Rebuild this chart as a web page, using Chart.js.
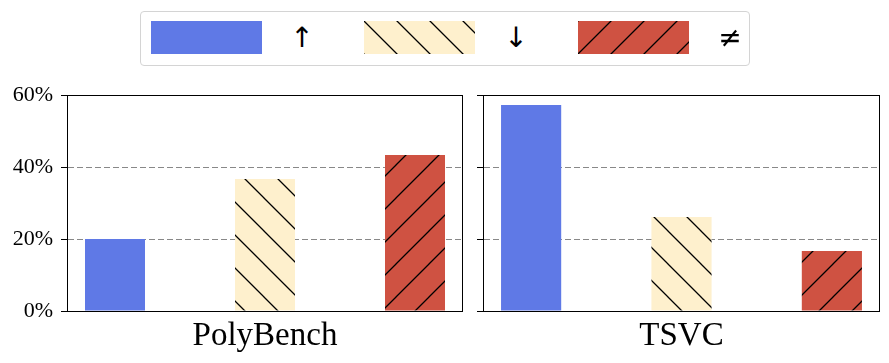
<!DOCTYPE html>
<html>
<head>
<meta charset="utf-8">
<script src="https://cdn.jsdelivr.net/npm/chart.js@4"></script>
<style>
  body { margin: 0; background: #fff; }
  #wrap { position: relative; width: 889px; height: 363px; }
  canvas { position: absolute; top: 0; }
  #legend {
    position: absolute; left: 140px; top: 11px; width: 608px; height: 53px;
    border: 1px solid #d4d4d4; border-radius: 4px; background: #fff; z-index: 2;
  }
  #legend canvas { position: absolute; top: 9px; }
  #legend span {
    position: absolute; top: 9px; height: 33px; width: 40px;
    display: flex; align-items: center; justify-content: center;
    font: 28px 'DejaVu Sans', sans-serif; line-height: 1; color: #000;
  }
</style>
</head>
<body>
<div id="wrap">
  <canvas id="chartPoly" width="470" height="363" style="left:0"></canvas>
  <canvas id="chartTsvc" width="419" height="363" style="left:470px"></canvas>
  <div id="legend"></div>
</div>
<script>
// Datos
const symbols = ['↑', '↓', '≠'];
const panels = ['PolyBench', 'TSVC'];
const polybenchValues = [20, 36.7, 43.3];
const tsvcValues = [57.2, 26.1, 16.7];
const yTickValues = [0, 20, 40, 60];

const blue = '#5f79e6';
const beige = '#fef0cd';
const red = '#cf5242';

// Patron rayado (hatch)
function makeHatch(bg, dir) {
    const s = 33;
    const c = document.createElement('canvas');
    c.width = s; c.height = s;
    const g = c.getContext('2d');
    g.fillStyle = bg;
    g.fillRect(0, 0, s, s);
    g.strokeStyle = '#000';
    g.lineWidth = 1.3;
    g.beginPath();
    if (dir === '/') {
        g.moveTo(-2, s + 2); g.lineTo(s + 2, -2);
        g.moveTo(-2, 2); g.lineTo(2, -2);
        g.moveTo(s - 2, s + 2); g.lineTo(s + 2, s - 2);
    } else {
        g.moveTo(-2, -2); g.lineTo(s + 2, s + 2);
        g.moveTo(-2, s - 2); g.lineTo(2, s + 2);
        g.moveTo(s - 2, -2); g.lineTo(s + 2, 2);
    }
    g.stroke();
    return g.createPattern(c, 'repeat');
}

const fills = [blue, makeHatch(beige, '\\'), makeHatch(red, '/')];

// Marco alrededor del area del grafico
const framePlugin = {
    id: 'frame',
    afterDraw(chart) {
        const a = chart.chartArea;
        const ctx = chart.ctx;
        ctx.save();
        ctx.strokeStyle = '#000';
        ctx.lineWidth = 1;
        ctx.setLineDash([]);
        ctx.strokeRect(Math.round(a.left) + 0.5, Math.round(a.top) + 0.5,
            Math.round(a.right - a.left) - 1, Math.round(a.bottom - a.top));
        ctx.restore();
    }
};

function buildChart(id, title, values, showLabels, yWidth, rightPad) {
    return new Chart(document.getElementById(id), {
        type: 'bar',
        data: {
            datasets: [{
                label: title,
                data: values.map((v, i) => ({ x: i, y: v })),
                backgroundColor: fills,
                borderWidth: 0,
                categoryPercentage: 1,
                barPercentage: 0.4
            }]
        },
        options: {
            responsive: false,
            animation: false,
            layout: { padding: { top: 95, right: rightPad, left: 0, bottom: 0 } },
            plugins: { legend: { display: false }, tooltip: { enabled: false } },
            scales: {
                x: {
                    type: 'linear',
                    offset: false,
                    min: -0.32,
                    max: values.length - 1 + 0.32,
                    afterBuildTicks: s => { s.ticks = values.map((v, i) => ({ value: i })); },
                    ticks: { display: false },
                    grid: { display: false },
                    border: { display: false },
                    title: {
                        display: true,
                        text: title,
                        color: '#000',
                        font: { family: "'Liberation Serif', serif", size: 33 },
                        padding: { top: 0, bottom: 7 }
                    },
                    afterFit: s => { s.height = 52; }
                },
                y: {
                    min: 0,
                    max: 60,
                    afterBuildTicks: s => { s.ticks = yTickValues.map(v => ({ value: v })); },
                    ticks: {
                        display: showLabels,
                        color: '#000',
                        padding: 8,
                        font: { family: "'Liberation Serif', serif", size: 22 },
                        callback: v => v + '%'
                    },
                    grid: {
                        color: '#888',
                        lineWidth: 1,
                        tickColor: '#000',
                        tickLength: 6,
                        tickBorderDash: []
                    },
                    border: { display: true, color: '#000', dash: [6, 3] },
                    afterFit: s => { s.width = yWidth; }
                }
            }
        },
        plugins: [framePlugin]
    });
}

buildChart('chartPoly', panels[0], polybenchValues, true, 67, 7);
buildChart('chartTsvc', panels[1], tsvcValues, false, 13, 9);

// Leyenda
const legend = document.getElementById('legend');
const patchX = [10, 223, 437];
const symX = [141, 355, 569];
symbols.forEach((sym, i) => {
    const c = document.createElement('canvas');
    c.width = 111; c.height = 33;
    c.style.left = patchX[i] + 'px';
    const g = c.getContext('2d');
    g.fillStyle = fills[i];
    g.fillRect(0, 0, 111, 33);
    legend.appendChild(c);
    const t = document.createElement('span');
    t.textContent = sym;
    t.style.left = symX[i] + 'px';
    legend.appendChild(t);
});
</script>
</body>
</html>
